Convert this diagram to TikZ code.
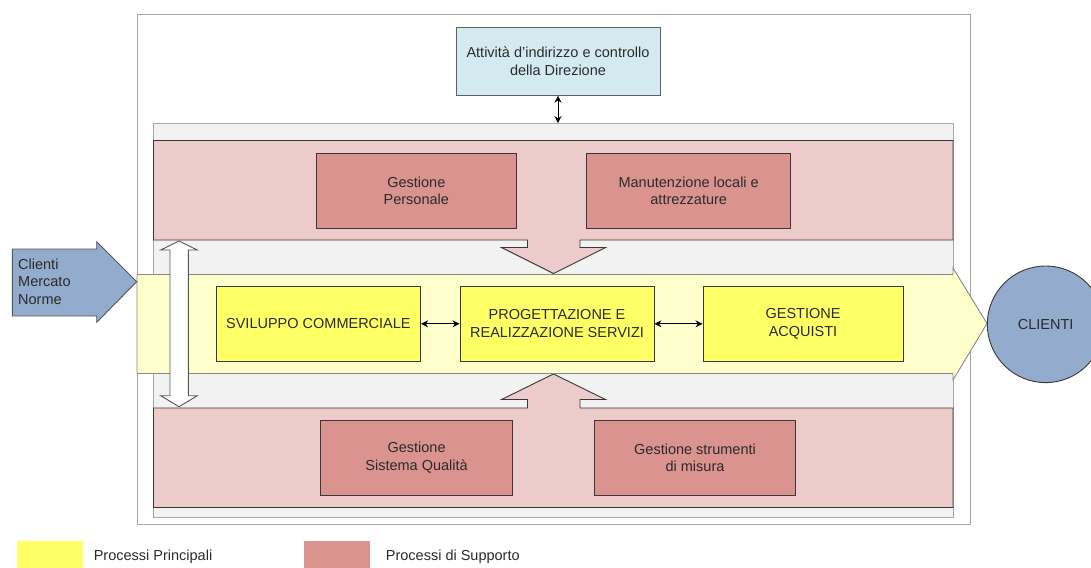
\documentclass[tikz,border=0pt]{standalone}
\usepackage{fontspec}
\setmainfont{Liberation Sans}
\usetikzlibrary{arrows.meta}
\definecolor{txt}{HTML}{2B2B2B}
\definecolor{edge}{HTML}{383838}
\definecolor{frame}{HTML}{A8A8A8}
\definecolor{direz}{HTML}{D3EBF0}
\definecolor{contgrey}{HTML}{F2F2F2}
\definecolor{pband}{HTML}{EDCBCA}
\definecolor{pbox}{HTML}{DA938F}
\definecolor{yband}{HTML}{FFFFCC}
\definecolor{ybox}{HTML}{FFFF66}
\definecolor{blu}{HTML}{93ABCD}
\begin{document}
\begin{tikzpicture}[x=1pt,y=-1pt,
	every node/.style={font=\fontsize{14.5}{17.6}\selectfont,text=txt,align=center,inner sep=0pt},
	ybx/.style={draw=edge,fill=ybox,line width=.9pt,minimum height=75.5pt},
	pbx/.style={draw=edge,fill=pbox,line width=.9pt,minimum height=75pt},
	link/.style={{Stealth[length=7pt,width=7pt]}-{Stealth[length=7pt,width=7pt]},line width=.9pt,black}]
		\useasboundingbox (0,0) rectangle (1091,567);
		\clip (0,0) rectangle (1091,567);
		\draw[frame,line width=1pt,fill=white] (137,15) rectangle (970,524);
		\node[draw=edge!80,fill=direz,line width=.9pt,minimum width=204pt,minimum height=68pt] (dir) at (558,61.2){Attività d'indirizzo e controllo\\della Direzione};
		\node[draw=frame,fill=contgrey,line width=.9pt,minimum width=799.5pt,minimum height=393.5pt] (supporto) at (553.25,320.25){};
		% fasce dei processi di supporto
		\draw[edge,fill=pband,line width=.9pt] (153.5,140.5)--(953,140.5)--(953,240)--(580,240)--(580,247.5)--(605.5,247.5)--(553.5,273.5)--(501.5,247.5)--(527.5,247.5)--(527.5,240)--(153.5,240)--cycle;
		\draw[edge,fill=pband,line width=.9pt] (153.5,408)--(527.5,408)--(527.5,399.5)--(501.5,399.5)--(553.5,374)--(605.5,399.5)--(580,399.5)--(580,408)--(953,408)--(953,507.5)--(153.5,507.5)--cycle;
		% processi principali
		\draw[edge!60,fill=yband,line width=.9pt] (137,274.5)--(953,274.5)--(953,268)--(987,323.5)--(953,380)--(953,373.5)--(137,373.5)--cycle;
		\draw[edge!85,fill=blu,line width=.9pt] (12.3,249)--(96.7,249)--(96.7,241.7)--(136.7,281.7)--(96.7,322.3)--(96.7,316)--(12.3,316)--cycle;
		\node[anchor=west,align=left] (fonti) at (18,281.7){Clienti\\Mercato\\Norme};
		\draw[edge!85,fill=white,line width=.9pt] (170,250)--(160.7,250)--(179,241)--(197.3,250)--(188.3,250)--(188.3,395.7)--(197.3,395.7)--(179,406.7)--(160.7,395.7)--(170,395.7)--cycle;
		\node[ybx,minimum width=204.5pt] (svil) at (318.4,323.8){SVILUPPO COMMERCIALE};
		\node[ybx,minimum width=194pt] (prog) at (557,323.8){PROGETTAZIONE E\\REALIZZAZIONE SERVIZI};
		\node[ybx,minimum width=200pt] (acq) at (803,323.8){GESTIONE\\ACQUISTI};
		\node[pbx,minimum width=200.5pt] (pers) at (416.3,190.8){Gestione\\Personale};
		\node[pbx,minimum width=204pt] (manut) at (688.7,190.8){Manutenzione locali e\\attrezzature};
		\node[pbx,minimum width=192pt] (qual) at (416.6,457.7){Gestione\\Sistema Qualità};
		\node[pbx,minimum width=200.6pt] (strum) at (695,457.7){Gestione strumenti\\di misura};
		\node[circle,draw=edge,fill=blu,line width=.9pt,minimum size=116.6pt] (clienti) at (1045.6,324.3){CLIENTI};
		\draw[link] (dir)--(dir|-supporto.north);
		\draw[link] (svil)--(prog);
		\draw[link] (prog)--(acq);
		% legenda
		\node[fill=ybox,minimum width=66pt,minimum height=30pt,anchor=north west] (legp) at (17,541){};
		\node[fill=pbox,minimum width=66pt,minimum height=30pt,anchor=north west] (legs) at (304,541){};
		\node[anchor=west] (legptxt) at (93.6,556.5){Processi Principali};
		\node[anchor=west] (legstxt) at (385.7,556.5){Processi di Supporto};
\end{tikzpicture}
\end{document}
